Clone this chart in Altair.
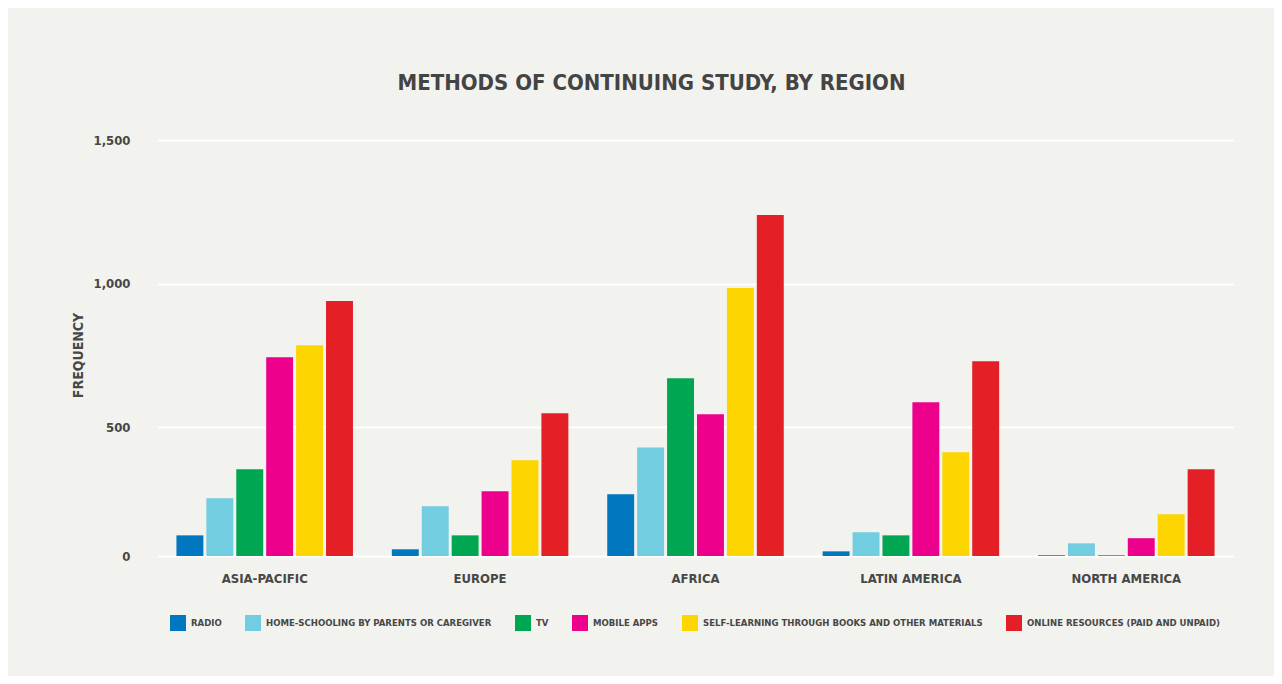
import altair as alt
import pandas as pd

regions = ["ASIA-PACIFIC", "EUROPE", "AFRICA", "LATIN AMERICA", "NORTH AMERICA"]
methods = [
    "RADIO",
    "HOME-SCHOOLING BY PARENTS OR CAREGIVER",
    "TV",
    "MOBILE APPS",
    "SELF-LEARNING THROUGH BOOKS AND OTHER MATERIALS",
    "ONLINE RESOURCES (PAID AND UNPAID)",
]
colors = ["#0077be", "#72cde0", "#00a651", "#ec008c", "#fdd500", "#e41f26"]

radio = [80, 26, 239, 18, 3]
home_schooling = [224, 193, 421, 92, 49]
tv = [336, 80, 670, 80, 3]
mobile_apps = [743, 251, 544, 586, 69]
self_learning = [785, 371, 984, 402, 162]
online = [939, 548, 1239, 729, 336]

series = [radio, home_schooling, tv, mobile_apps, self_learning, online]
rows = []
for m, vals in zip(methods, series):
    for r, v in zip(regions, vals):
        rows.append({"region": r, "method": m, "value": v})
df = pd.DataFrame(rows)

FONT = "DejaVu Sans Condensed, DejaVu Sans, sans-serif"
TEXT = "#474747"
W, H = 1077, 416
TOTAL_W, TOTAL_H = 1266, 668

chart = (
    alt.Chart(df)
    .mark_bar()
    .encode(
        x=alt.X(
            "region:N",
            sort=regions,
            title=None,
            scale=alt.Scale(paddingInner=0, paddingOuter=0, round=False),
            axis=alt.Axis(
                ticks=False, domain=False, labelAngle=0, labelPadding=16,
                labelFont=FONT, labelFontSize=13, labelFontWeight="bold", labelColor=TEXT,
            ),
        ),
        xOffset=alt.XOffset(
            "method:N", sort=methods,
            scale=alt.Scale(paddingInner=0.1, paddingOuter=0.65, round=False),
        ),
        y=alt.Y(
            "value:Q",
            title="FREQUENCY",
            scale=alt.Scale(domain=[0, 500, 1500], range=[H, H - 129, 0], nice=False, zero=True),
            axis=alt.Axis(
                values=[0, 500, 1000, 1500], labelExpr="format(datum.value, ',')",
                ticks=False, domain=False,
                labelPadding=27, labelFont=FONT, labelFontSize=13, labelFontWeight="bold",
                labelColor=TEXT, gridColor="#ffffff", gridWidth=2,
                titleFont=FONT, titleFontSize=14, titleFontWeight="bold", titleColor=TEXT,
                titleAngle=270, titleX=-79, titleY=H / 2 + 7, titleAlign="center",
                titleBaseline="middle",
            ),
        ),
        color=alt.Color(
            "method:N",
            sort=methods,
            scale=alt.Scale(domain=methods, range=colors),
            legend=alt.Legend(
                title=None, orient="none", direction="horizontal",
                legendX=13, legendY=475,
                symbolType="square", symbolSize=256, symbolStrokeWidth=0,
                labelFont=FONT, labelFontSize=9.5, labelFontWeight="bold", labelColor=TEXT,
                labelOffset=5, columnPadding=23, labelLimit=400,
            ),
        ),
    )
    .properties(
        width=W,
        height=H,
        title=alt.TitleParams(
            "METHODS OF CONTINUING STUDY, BY REGION",
            font=FONT, fontSize=22, fontWeight="bold", color="#444444",
            anchor="middle", baseline="alphabetic", offset=22, dx=-44,
        ),
        autosize=alt.AutoSizeParams(type="none"),
        padding={"left": 149, "top": 132, "right": TOTAL_W - 149 - W, "bottom": TOTAL_H - 132 - H},
        background="#f2f2ee",
    )
    .configure_view(stroke=None)
)

chart.save("out.html", embed_options={"renderer": "svg", "actions": False})
